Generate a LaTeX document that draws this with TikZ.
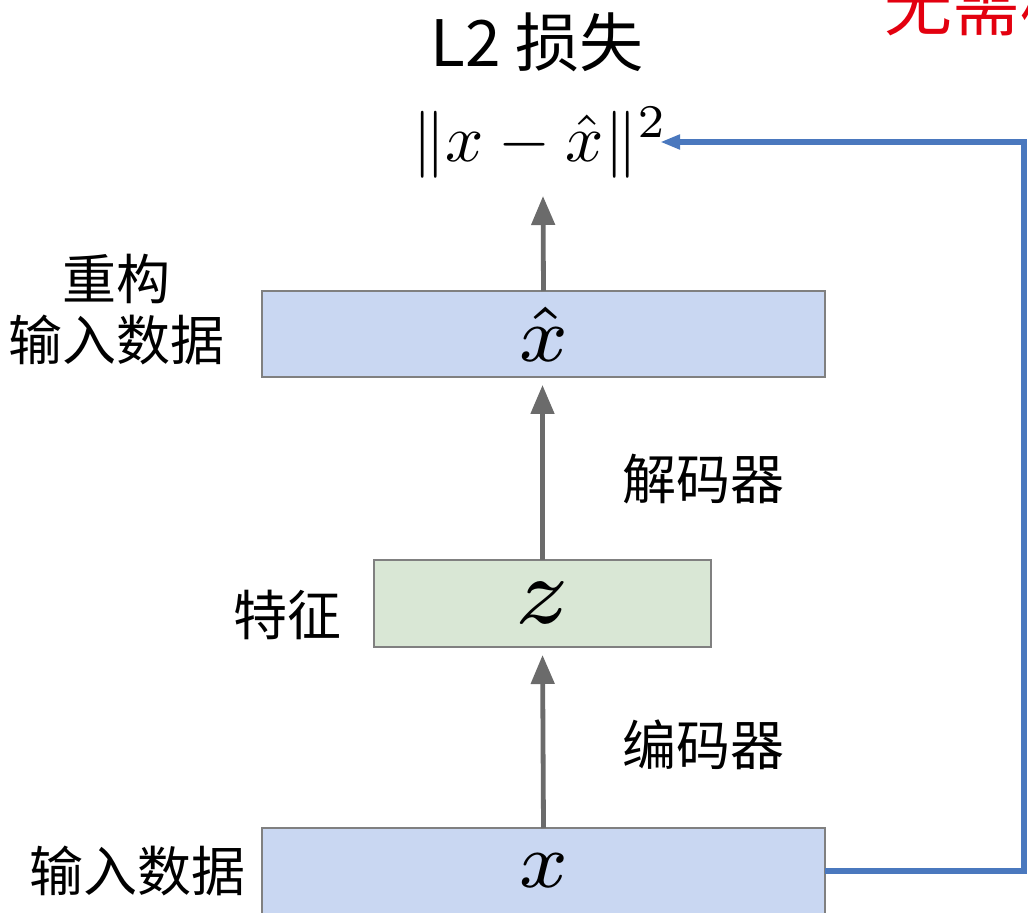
\RequirePackage{fix-cm}
\documentclass[tikz,border=0pt]{standalone}
\usepackage{fontspec}
\setmainfont{Liberation Sans}
\newfontfamily\cjk{Noto Sans CJK SC}
\usetikzlibrary{arrows.meta}
\definecolor{boxblue}{HTML}{C9D7F2}
\definecolor{boxgreen}{HTML}{D9E7D5}
\definecolor{boxedge}{HTML}{808080}
\definecolor{arrgray}{HTML}{6B6B6B}
\definecolor{fbblue}{HTML}{4A78BE}
\definecolor{redtxt}{HTML}{E3000F}
\newcommand{\bigmath}[2]{\scalebox{#1}{\fontsize{7}{8}\selectfont$#2$}}
\begin{document}
\begin{tikzpicture}[x=0.5pt,y=-0.5pt,
  layer/.style={draw=boxedge, line width=1pt, inner sep=0pt, outer sep=0pt},
  lbl/.style={font=\cjk\fontsize{27}{32}\selectfont, inner sep=0pt, anchor=center},
  flow/.style={draw=arrgray, line width=2.4pt, -{Triangle[width=11.5pt,length=14.5pt]}, shorten >=4pt},
  fb/.style={draw=fbblue, line width=2.6pt, -{Triangle[width=7pt,length=10pt]}, shorten >=-4pt}]
\useasboundingbox (0,0) rectangle (1028,913);
\clip (0,0) rectangle (1028,913);

% boxes
\node[layer, fill=boxblue, minimum width=281.5pt, minimum height=43pt] (xhat) at (543.5,334) {\bigmath{5.6}{\hat{x}}};
\node[layer, fill=boxgreen, minimum width=168.5pt, minimum height=43.5pt] (z) at (542.5,603.5) {\bigmath{6.8}{z}};
\node[layer, fill=boxblue, minimum width=281.5pt, minimum height=43pt] (xin) at (543.5,871) {\bigmath{5.6}{x}};

% loss
\node[inner sep=0pt, anchor=center, font=\cjk\fontsize{32}{38}\selectfont] (title) at (537,42) {L2 损失};
\node[inner sep=0pt, anchor=center] (loss) at (540,143) {\scalebox{3.35}{\fontsize{10}{12}\selectfont$\| x-\hat{x} \|^{2}$}};

% labels
\node[lbl] (recon1) at (116,279) {重构};
\node[lbl] (recon2) at (117,340) {输入数据};
\node[lbl] (feat) at (287,615) {特征};
\node[lbl] (dec) at (703,479) {解码器};
\node[lbl] (enc) at (703,745) {编码器};
\node[lbl] (inp) at (137,871) {输入数据};
\node[inner sep=0pt, anchor=base west, text=redtxt, font=\cjk\fontsize{34}{40}\selectfont] (note) at (884,31) {无需标签};

% arrows
\draw[flow] (xin.north) -- (z.south);
\draw[flow] (z.north) -- (z.north |- xhat.south);
\coordinate (losstip) at (543,196);
\draw[flow, shorten >=0pt] (xhat.north) -- (losstip);
\coordinate (fbc) at (1024,142);
\draw[fb] (xin.east) -| (fbc) -- (loss.east |- fbc);
\end{tikzpicture}
\end{document}
